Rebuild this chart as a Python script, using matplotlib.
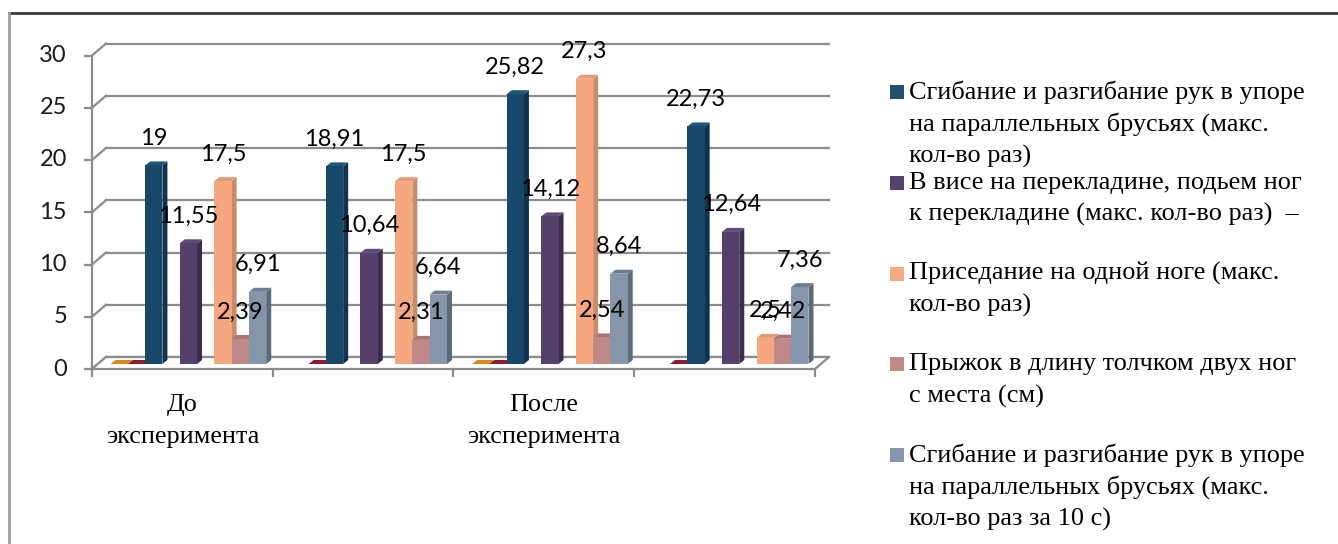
import numpy as np
import matplotlib.pyplot as plt
from matplotlib.patches import Polygon, Rectangle
from matplotlib.lines import Line2D

# Groups along the x axis (only every other one carries a caption)
categories = ["До\nэксперимента", "", "После\nэксперимента", ""]

# Series values per group (None = no bar in that group)
s_zero_a = [0, None, 0, None]
s_zero_b = [0, 0, 0, 0]
s_dips = [19, 18.91, 25.82, 22.73]
s_legs = [11.55, 10.64, 14.12, 12.64]
s_squat = [17.5, 17.5, 27.3, 2.5]
s_jump = [2.39, 2.31, 2.54, 2.42]
s_dips10 = [6.91, 6.64, 8.64, 7.36]

legend_labels = [
    ["Сгибание и разгибание рук в упоре", "на параллельных брусьях (макс.", "кол-во раз)"],
    ["В висе на перекладине, подьем ног", "к перекладине (макс. кол-во раз)  –"],
    ["Приседание на одной ноге (макс.", "кол-во раз)"],
    ["Прыжок в длину толчком двух ног", "с места (см)"],
    ["Сгибание и разгибание рук в упоре", "на параллельных брусьях (макс.", "кол-во раз за 10 с)"],
]

# (values, slot in group, front, side, top, show label)
series = [
    (s_zero_a, 0, "#DB8A1C", "#B06E14", "#DB8A1C", False),
    (s_zero_b, 1, "#8E1C2C", "#6E1422", "#8E1C2C", False),
    (s_dips, 2, "#17486A", "#0F3450", "#1F5679", True),
    (s_legs, 4, "#553F6B", "#3C2C4E", "#604A78", True),
    (s_squat, 6, "#F5A880", "#C98B6C", "#E29B78", True),
    (s_jump, 7, "#BF898A", "#9A6A6B", "#A87475", True),
    (s_dips10, 8, "#8596AA", "#5B6979", "#6F7F90", True),
]
legend_colors = ["#1F4E6E", "#574270", "#F6AA82", "#C08A8B", "#8496AC"]

W, H = 1338, 544
fig = plt.figure(figsize=(W / 100, H / 100), dpi=100)
ax_left, ax_right, ax_zero, px_per_unit = 92, 815, 369, 10.45
ax = fig.add_axes([ax_left / W, (H - ax_zero) / H,
                   (ax_right - ax_left) / W, 30 * px_per_unit / H])
ax.set_xlim(0, 4)
ax.set_ylim(0, 30)
ax.axis("off")

PX = 4 / (ax_right - ax_left)   # x data units per pixel
PY = 1 / px_per_unit            # y data units per pixel
DX, DY = 14 * PX, 12 * PY       # depth of the wall
BX, BY = 6 * PX, 5 * PY         # bar row depth
SX, SY = 5 * PX, 4 * PY         # bar thickness
SLOT = 17.3 * PX
PAD = (1 - 9 * SLOT) / 2

grid_c = "#8C8C8C"
sans = "Lato"
serif = "Liberation Serif"

# back wall gridlines and left wall slants
for v in range(0, 31, 5):
    ax.add_line(Line2D([DX, 4 + DX], [v + DY, v + DY], color=grid_c, lw=1.6, clip_on=False, zorder=1))
    ax.add_line(Line2D([0, DX], [v, v + DY], color=grid_c, lw=1.6, clip_on=False, zorder=1))
    ax.add_line(Line2D([-7 * PX, 0], [v, v], color=grid_c, lw=1.6, clip_on=False, zorder=1))
    ax.text(-25 * PX, v, str(v), ha="right", va="center", fontsize=17,
            family=sans, color="#1A1A1A")
ax.add_line(Line2D([0, 0], [0, 30], color=grid_c, lw=1.6, clip_on=False, zorder=1))

# floor
ax.add_patch(Polygon([(0, 0), (4, 0), (4 + DX, DY), (DX, DY)], closed=True,
                     facecolor="white", edgecolor=grid_c, lw=1.6, clip_on=False, zorder=1))
for k in range(5):
    ax.add_line(Line2D([k, k], [0, -7 * PY], color=grid_c, lw=1.6, clip_on=False, zorder=1))

# bars
for k in range(4):
    for vals, slot, c_front, c_side, c_top, show in series:
        v = vals[k]
        if v is None:
            continue
        x0 = k + PAD + slot * SLOT + BX
        x1 = x0 + SLOT
        y0, y1 = BY, BY + v
        ax.add_patch(Polygon([(x1, y0), (x1 + SX, y0 + SY), (x1 + SX, y1 + SY), (x1, y1)],
                             closed=True, facecolor=c_side, edgecolor="none", clip_on=False, zorder=3))
        ax.add_patch(Polygon([(x0, y1), (x1, y1), (x1 + SX, y1 + SY), (x0 + SX, y1 + SY)],
                             closed=True, facecolor=c_top, edgecolor="none", clip_on=False, zorder=3))
        if v > 0:
            ax.add_patch(Rectangle((x0, y0), SLOT, v, facecolor=c_front, edgecolor="none",
                                   clip_on=False, zorder=3))
        if show:
            ax.text((x0 + x1) / 2, y1 + 2.6, f"{v:g}".replace(".", ","), ha="center", va="center",
                    fontsize=17, family=sans, color="black", zorder=5)

# category captions, one line at a time
row_h = 32
for k, name in enumerate(categories):
    for j, line in enumerate(name.split("\n")):
        if line:
            ax.text(k + 0.5, -(42 + j * row_h) * PY, line, ha="center", va="baseline",
                    fontsize=18.8, family=serif, color="black")

# legend
for i, lines in enumerate(legend_labels):
    y_first = 92 + i * 90.8
    fig.patches.append(Rectangle((890 / W, (H - y_first - 7) / H), 14 / W, 14 / H,
                                 transform=fig.transFigure, facecolor=legend_colors[i], edgecolor="none"))
    for j, line in enumerate(lines):
        fig.text(909 / W, (H - (y_first + j * row_h)) / H, line, ha="left", va="center",
                 fontsize=18.9, family=serif, color="black")

# chart frame
fig.add_artist(Line2D([9 / W, 1], [(H - 13) / H] * 2, transform=fig.transFigure, color="#3A3A3A", lw=2))
fig.add_artist(Line2D([9 / W, 9 / W], [0, (H - 13) / H], transform=fig.transFigure, color="#A0A0A0", lw=2))

fig.savefig("out.png", dpi=100)
